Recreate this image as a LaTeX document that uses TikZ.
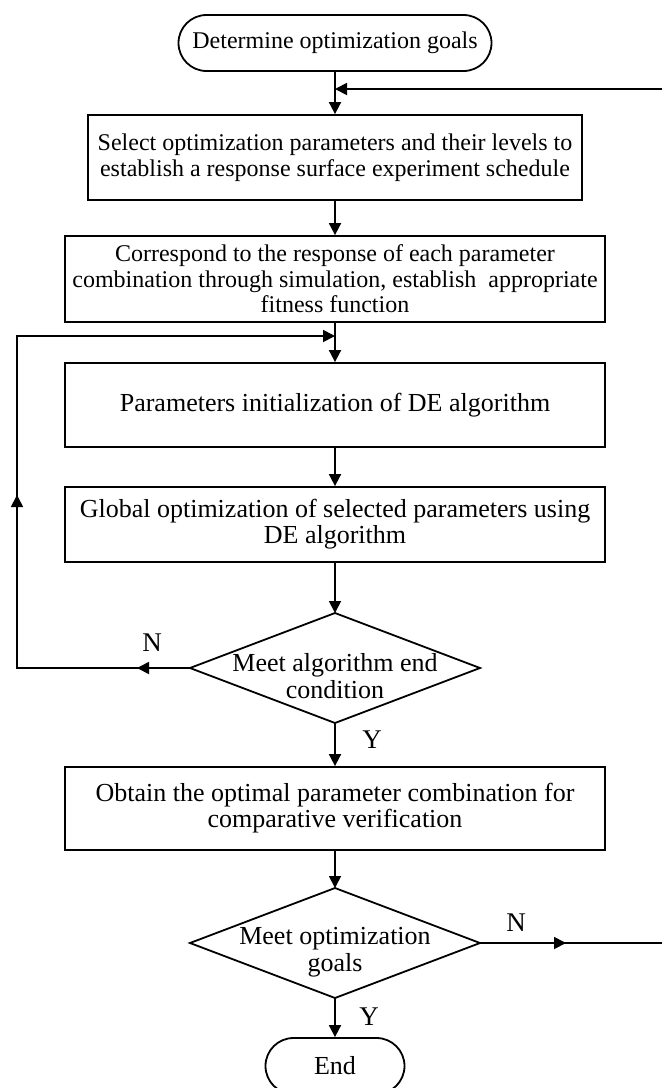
\documentclass[tikz,border=0pt]{standalone}
\usepackage{fontspec}
\setmainfont{Liberation Serif}
\usetikzlibrary{arrows.meta,decorations.markings}
\begin{document}
\begin{tikzpicture}[x=0.5pt,y=-0.5pt,
  every node/.style={font=\fontsize{12}{12.8}\selectfont, align=center, inner sep=0pt},
  big/.style={font=\fontsize{13}{13}\selectfont},
  dtext/.style={font=\fontsize{13}{13.3}\selectfont},
  proc/.style={draw, line width=0.9pt, minimum width=270pt},
  term/.style={draw, line width=0.9pt, rounded corners=14pt, minimum height=28pt},
  line/.style={line width=0.9pt},
  arr/.style={line width=0.9pt, -{Triangle[length=6pt,width=6pt]}},
  lbl/.style={font=\fontsize{13.5}{14}\selectfont},
  loopmarks/.style={postaction={decorate}, decoration={markings,
    mark=at position 26.5pt with {\arrow{Triangle[length=6pt,width=6pt]}},
    mark=at position 173pt with {\arrow{Triangle[length=6pt,width=6pt]}}}},
  exitmark/.style={postaction={decorate}, decoration={markings,
    mark=at position 43pt with {\arrow{Triangle[length=6pt,width=6pt]}}}}
]
\useasboundingbox (0,0) rectangle (662,1088);

% nodes
\node[term, minimum width=156.5pt] (start) at (335,43) {Determine optimization goals};
\node[proc, minimum width=247pt, minimum height=42.5pt] (b1) at (335,157.5)
  {Select optimization parameters and their levels to\\establish a response surface experiment schedule};
\node[proc, minimum height=43pt] (b2) at (335,279)
  {Correspond to the response of each parameter\\combination through simulation, establish\ \ appropriate\\fitness function};
\node[proc, big, minimum height=42pt] (b3) at (335,405) {Parameters initialization of DE algorithm};
\node[proc, big, minimum height=37.5pt] (b4) at (335,524.5)
  {Global optimization of selected parameters using\\DE algorithm};
\node[dtext] (d1) at (335,676) {Meet algorithm end\\condition};
\node[proc, big, minimum height=41.5pt] (b5) at (335,808.5)
  {Obtain the optimal parameter combination for\\comparative verification};
\node[dtext] (d2) at (335,952) {Meet optimization\\goals};
\node[term, big, minimum width=69.5pt] (end) at (335,1066) {End};

% diamond outlines
\coordinate (d1n) at (335,613); \coordinate (d1e) at (480,668);
\coordinate (d1s) at (335,723); \coordinate (d1w) at (190,668);
\coordinate (d2n) at (335,888); \coordinate (d2e) at (480,943);
\coordinate (d2s) at (335,998); \coordinate (d2w) at (190,943);
\draw[line] (d1n) -- (d1e) -- (d1s) -- (d1w) -- cycle;
\draw[line] (d2n) -- (d2e) -- (d2s) -- (d2w) -- cycle;

% helper coordinates
\coordinate (j1) at (335,89);
\coordinate (rt) at (662,89);
\coordinate (j2) at (335,336);
\coordinate (bl) at (17,668);
\coordinate (tl) at (17,336);
\coordinate (re) at (662,943);

% connectors
\draw[arr] (start.south) -- (b1.north);
\draw[arr] (rt) -- (j1);
\draw[arr] (b1.south) -- (b2.north);
\draw[arr] (b2.south) -- (b3.north);
\draw[arr] (b3.south) -- (b4.north);
\draw[arr] (b4.south) -- (d1n);
\draw[arr] (d1s) -- (b5.north);
\draw[arr] (b5.south) -- (d2n);
\draw[arr] (d2s) -- (end.north);
\draw[line, loopmarks, -{Triangle[length=6pt,width=6pt]}] (d1w) -- (bl) -- (tl) -- (j2);
\draw[line, exitmark] (d2e) -- (re);

% labels
\node[lbl] (n1) at (152,643) {N};
\node[lbl] (y1) at (372,740) {Y};
\node[lbl] (n2) at (516,923) {N};
\node[lbl] (y2) at (369,1017) {Y};
\end{tikzpicture}
\end{document}
